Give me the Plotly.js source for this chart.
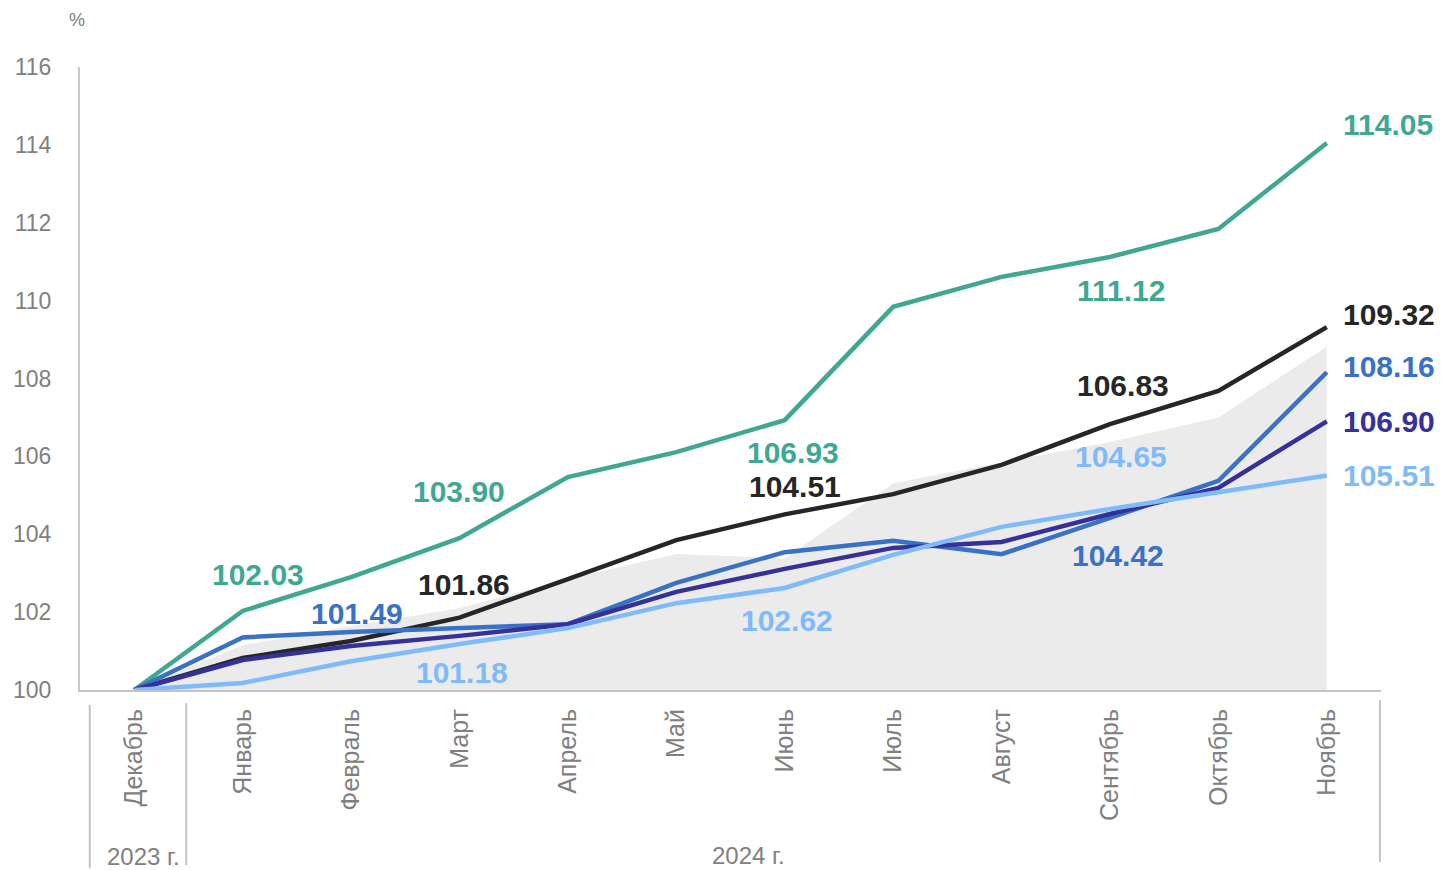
<!DOCTYPE html>
<html>
<head>
<meta charset="utf-8">
<script src="https://cdn.plot.ly/plotly-3.0.1.min.js"></script>
<style>html,body{margin:0;padding:0;background:#fff;}#chart{width:1445px;height:870px;}</style>
</head>
<body>
<div id="chart"></div>
<script>
const months = ['Декабрь','Январь','Февраль','Март','Апрель','Май','Июнь','Июль','Август','Сентябрь','Октябрь','Ноябрь'];
const years = ['2023 г.', '2024 г.'];
const grayArea = [100, 101.15, 101.64, 102.10, 102.85, 103.49, 103.38, 105.31, 105.84, 106.37, 107.00, 108.82];
const tealSeries = [100, 102.03, 102.90, 103.90, 105.47, 106.11, 106.93, 109.84, 110.61, 111.12, 111.84, 114.05];
const blackSeries = [100, 100.82, 101.26, 101.86, 102.85, 103.85, 104.51, 105.03, 105.78, 106.83, 107.68, 109.32];
const blueSeries = [100, 101.35, 101.49, 101.59, 101.69, 102.75, 103.54, 103.83, 103.49, 104.42, 105.37, 108.16];
const indigoSeries = [100, 100.77, 101.13, 101.39, 101.69, 102.52, 103.11, 103.65, 103.80, 104.52, 105.19, 106.90];
const lightSeries = [100, 100.18, 100.74, 101.18, 101.59, 102.23, 102.62, 103.47, 104.19, 104.65, 105.08, 105.51];

const xs = months.map((m, i) => i);
const FONT = 'Arial, "Liberation Sans", sans-serif';
const GRAYTXT = '#808080';

const series = [
  {y: tealSeries, color: '#40a892', labels: [[1, 15, 36], [3, 0, 47], [6, 8, -32], [9, 11, -33], [11, 14, 18]]},
  {y: blackSeries, color: '#262626', labels: [[3, 5, 33], [6, 10, 28], [9, 13, 39], [11, 14, 13]]},
  {y: blueSeries, color: '#3871c5', labels: [[2, 6, 18], [9, 8, -38], [11, 14, 6]]},
  {y: indigoSeries, color: '#36309b', labels: [[11, 14, 0]]},
  {y: lightSeries, color: '#7fbbfb', labels: [[3, 3, -28], [6, 2, -33], [9, 11, 52], [11, 14, 0]]}
];

const traces = [{
  x: xs, y: grayArea, type: 'scatter', mode: 'lines', fill: 'tozeroy',
  fillcolor: '#ebebeb', line: {width: 0, color: '#ebebeb'}, hoverinfo: 'skip'
}];
series.forEach(s => traces.push({
  x: xs, y: s.y, type: 'scatter', mode: 'lines',
  line: {color: s.color, width: 4.5}
}));

const annotations = [];
series.forEach(s => {
  s.labels.forEach(([i, dx, dy]) => {
    const last = i === months.length - 1;
    annotations.push({
      x: i, y: s.y[i], xref: 'x', yref: 'y', text: s.y[i].toFixed(2),
      showarrow: false, xanchor: last ? 'left' : 'center', yanchor: 'middle',
      xshift: dx, yshift: dy,
      font: {family: FONT, size: 30, color: s.color, weight: 'bold'}
    });
  });
});
annotations.push({x: -0.002, y: 1.075, xref: 'paper', yref: 'paper', text: '%', showarrow: false,
  xanchor: 'center', yanchor: 'middle', font: {family: FONT, size: 18, color: GRAYTXT}});
annotations.push({x: 0.09, y: -0.268, xref: 'x', yref: 'paper', text: years[0], showarrow: false,
  xanchor: 'center', yanchor: 'middle', font: {family: FONT, size: 24, color: GRAYTXT}});
annotations.push({x: 5.67, y: -0.266, xref: 'x', yref: 'paper', text: years[1], showarrow: false,
  xanchor: 'center', yanchor: 'middle', font: {family: FONT, size: 24, color: GRAYTXT}});

const lineStyle = {color: '#c4c4c4', width: 2};
const shapes = [
  {type: 'line', xref: 'x', yref: 'paper', x0: -0.41, x1: -0.41, y0: -0.024, y1: -0.286, line: lineStyle},
  {type: 'line', xref: 'x', yref: 'paper', x0: 0.48, x1: 0.48, y0: -0.021, y1: -0.281, line: lineStyle},
  {type: 'line', xref: 'x', yref: 'paper', x0: 11.49, x1: 11.49, y0: -0.016, y1: -0.276, line: lineStyle}
];

const layout = {
  width: 1445, height: 870,
  margin: {l: 80, r: 64, t: 67, b: 180},
  paper_bgcolor: '#ffffff', plot_bgcolor: '#ffffff',
  showlegend: false,
  font: {family: FONT, color: GRAYTXT},
  xaxis: {
    range: [-0.5, 11.5], tickvals: xs, ticktext: months, tickangle: -90,
    showgrid: false, zeroline: false, showline: true, linecolor: '#c4c4c4', linewidth: 2,
    ticks: '', ticklabelstandoff: 7,
    tickfont: {family: FONT, size: 25, color: GRAYTXT}, fixedrange: true
  },
  yaxis: {
    range: [100, 116], dtick: 2, tick0: 100,
    showgrid: false, zeroline: false, showline: true, linecolor: '#c8c8c8', linewidth: 2,
    ticks: '', ticklabelstandoff: 22,
    tickfont: {family: FONT, size: 23, color: GRAYTXT}, fixedrange: true
  },
  annotations: annotations,
  shapes: shapes
};

Plotly.newPlot('chart', traces, layout, {displayModeBar: false, staticPlot: true});
</script>
</body>
</html>
